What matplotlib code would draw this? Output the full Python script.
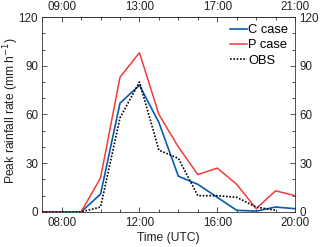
import matplotlib
matplotlib.use("Agg")
import matplotlib.pyplot as plt
from matplotlib.ticker import MultipleLocator, FixedLocator, FuncFormatter

plt.rcParams['font.family'] = ['Liberation Sans', 'DejaVu Sans']

hours = [7, 8, 9, 10, 11, 12, 13, 14, 15, 16, 17, 18, 19, 20]
c_case = [0, 0, 0, 11, 67, 78, 55, 22, 17, 9, 1, 0.5, 3, 2]
p_case = [0, 0, 0, 21, 83, 98, 60, 40, 23, 27, 17, 2, 13, 10]
obs_hours = [7, 8, 9, 10, 11, 12, 13, 14, 15, 16, 17, 18, 19]
obs = [0, 0, 0, 3, 58, 80, 38, 33, 10, 10, 9, 3, 1]

bottom_ticks = [8, 12, 16, 20]
top_ticks = [9, 13, 17, 21]
y_ticks = [0, 30, 60, 90, 120]

blue = '#0a58b4'
red = '#f23a3a'
fs_tick = 8.4
fs_label = 8.7
fs_leg = 9.3
spine_c = '#333333'
txt_c = '#222222'

fig = plt.figure(figsize=(3.2, 2.47), dpi=100)
ax = fig.add_axes([0.132, 0.142, 0.790, 0.789])

ax.plot(hours, c_case, color=blue, lw=1.2, label='C case', zorder=3)
ax.plot(hours, p_case, color=red, lw=1.1, label='P case', zorder=4)
ax.plot(obs_hours, obs, color='black', lw=1.2, ls=(0, (1, 1)), label='OBS', zorder=5)

ax.set_xlim(7, 20)
ax.set_ylim(0, 120)
fmt = FuncFormatter(lambda v, p: '%02d:00' % int(round(v)))
ax.xaxis.set_major_locator(FixedLocator(bottom_ticks))
ax.xaxis.set_minor_locator(MultipleLocator(1))
ax.xaxis.set_major_formatter(fmt)
ax.yaxis.set_major_locator(FixedLocator(y_ticks))
ax.yaxis.set_minor_locator(MultipleLocator(10))

ax.tick_params(axis='both', which='both', direction='in', labelsize=fs_tick,
               colors=spine_c, labelcolor=txt_c,
               right=True, labelright=True)
ax.tick_params(which='major', length=3.5, width=0.6)
ax.tick_params(which='minor', length=2.2, width=0.6)
ax.tick_params(axis='x', pad=4)
ax.tick_params(axis='y', pad=3)

sec = ax.secondary_xaxis('top', functions=(lambda x: x + 1, lambda x: x - 1))
sec.xaxis.set_major_locator(FixedLocator(top_ticks))
sec.xaxis.set_minor_locator(MultipleLocator(1))
sec.xaxis.set_major_formatter(fmt)
sec.tick_params(axis='x', which='both', direction='in', labelsize=fs_tick,
                colors=spine_c, labelcolor=txt_c, pad=3)
sec.tick_params(which='major', length=3.5, width=0.6)
sec.tick_params(which='minor', length=2.2, width=0.6)
for s in sec.spines.values():
    s.set_color(spine_c)
    s.set_linewidth(0.6)

for s in ax.spines.values():
    s.set_color(spine_c)
    s.set_linewidth(0.6)

ax.set_xlabel('Time (UTC)', fontsize=fs_label, color=txt_c, labelpad=2)
ax.set_ylabel('Peak rainfall rate (mm h$^{-1}$)', fontsize=fs_label, color=txt_c)
ax.yaxis.set_label_coords(-0.085, 0.52)

leg = ax.legend(loc='upper right', frameon=False, fontsize=fs_leg, handlelength=1.3,
                handletextpad=0.1, borderaxespad=0.15, labelspacing=0.25)

fig.savefig('out.png', dpi=100)
